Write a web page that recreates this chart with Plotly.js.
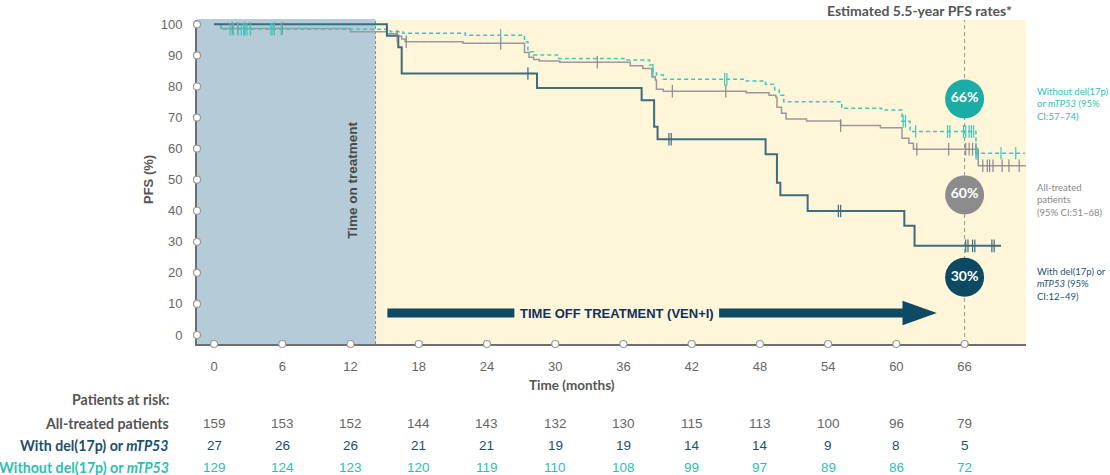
<!DOCTYPE html>
<html><head><meta charset="utf-8">
<script src="https://cdn.plot.ly/plotly-3.0.1.min.js"></script>
<style>html,body{margin:0;padding:0;background:#fff}#chart{width:1110px;height:475px}</style>
</head><body><div id="chart"></div>
<script>
// ---------- DATA ----------
const xTicks = [0,6,12,18,24,30,36,42,48,54,60,66];
const yTicks = [0,10,20,30,40,50,60,70,80,90,100];

// All-treated patients (KM step points: time in months, PFS %)
const allTimes = [0,0.6,12.0,15.2,16.1,16.5,16.8,21.9,27.3,27.7,28.1,28.6,30.4,36.6,37.7,38.5,38.8,38.9,39.5,46.8,48.8,49.4,49.5,49.9,50.3,52.1,55.1,58.6,60.5,61.1,61.5,67.2,71.4];
const allPFS   = [100,98.7,97.6,97.0,96.2,95.3,94.4,93.9,90.9,89.4,88.7,88.2,87.8,86.7,85.8,83.1,82.1,79.1,78.5,78.0,77.2,76.5,73.3,71.4,69.5,68.9,67.4,66.7,63.3,61.7,59.8,54.5,54.5];
const allCens  = [1.6,2.1,2.7,3.2,5.3,6.0,16.1,16.9,25.2,33.7,40.3,45.0,55.1,61.8,64.6,66.1,66.4,66.7,67.0,67.6,68.0,68.2,68.5,69.3,69.9,70.8];

// Without del(17p) or mTP53
const noTimes = [0,0.6,15.5,16.6,22.1,27.3,27.6,28.1,30.3,36.2,38.3,38.6,38.9,39.5,46.7,48.5,49.3,49.7,50.1,55.2,58.7,60.5,61.2,67.0,71.3];
const noPFS   = [100,98.4,97.6,97.1,96.5,94.4,91.2,90.1,89.0,88.5,86.9,84.7,83.7,82.3,81.8,80.7,78.9,77.2,75.1,73.0,72.4,68.8,65.5,58.5,58.5];
const noCens  = [1.4,1.7,2.1,2.4,2.6,2.7,2.9,3.2,5.0,5.1,5.3,5.9,25.2,38.6,44.9,45.1,60.6,60.8,61.7,64.5,64.7,65.9,66.1,66.4,66.6,66.8,67.0,67.1,69.2,70.5];

// With del(17p) or mTP53
const delTimes = [0,15.2,16.2,16.5,28.4,37.6,38.7,39.0,48.5,49.5,49.8,52.2,60.7,61.6,69.2];
const delPFS   = [100,96.3,92.6,84.2,79.5,75.6,67.0,63.0,58.2,49.0,45.0,39.9,35.2,28.7,28.7];
const delCens  = [27.6,40.0,40.2,54.9,55.1,66.1,66.3,66.7,66.9,68.4,68.6];

// Patients at risk
const riskAll   = [159,153,152,144,143,132,130,115,113,100,96,79];
const riskDel   = [27,26,26,21,21,19,19,14,14,9,8,5];
const riskNoDel = [129,124,123,120,119,110,108,99,97,89,86,72];

// Estimated 5.5-year PFS rates
const estLabels = ['66%','60%','30%'];
const estCI = ['Without del(17p)<br>or <i>mTP53</i> (95%<br>CI:57–74)', 'All-treated<br>patients<br>(95% CI:51–68)', 'With del(17p) or<br><i>mTP53</i> (95%<br>CI:12–49)'];
const landmark = 66;
const treatEnd = 14.2;

// ---------- LAYOUT CONSTANTS ----------
const xRange = [-1.5, 71.4];
const yRange = [-2.9, 101.4];
const cTeal = '#3cc8c0', cGray = '#9a9a9a', cDark = '#3d6c7e';
const estColors = ['#19ada6','#8c8c8c','#0c4a63'];
const estTextColors = ['#2bbfb5','#888888','#1d5570'];
const estY = [76.0, 45.1, 18.6];
const estTextPy = [104, 200, 284];

function stepAt(times, vals, t){
  let v = vals[0];
  for (let i=0;i<times.length;i++){ if (times[i] <= t + 1e-9) v = vals[i]; }
  return v;
}
function curve(times, vals, color, width, dash){
  return {x: times, y: vals, type:'scatter', mode:'lines', line:{shape:'hv', color, width, dash}, hoverinfo:'skip', showlegend:false};
}
function cens(ct, times, vals, color){
  return {x: ct, y: ct.map(t=>stepAt(times, vals, t)), type:'scatter', mode:'markers',
    marker:{symbol:'line-ns-open', size:9, color, line:{color, width:1.2}}, hoverinfo:'skip', showlegend:false};
}

const traces = [
  curve(allTimes, allPFS, cGray, 1.5, 'solid'),
  curve(noTimes, noPFS, cTeal, 1.5, '4px,3px'),
  curve(delTimes, delPFS, cDark, 2, 'solid'),
  cens(allCens, allTimes, allPFS, '#8a8a8a'),
  cens(noCens, noTimes, noPFS, cTeal),
  cens(delCens, delTimes, delPFS, cDark),
  // estimate circles
  {x: estLabels.map(()=>landmark), y: estY, type:'scatter', mode:'markers+text', text: estLabels,
   textposition:'middle center', textfont:{family:'Lato', size:14, color:'#ffffff', weight:'bold'},
   marker:{size:39, color: estColors, line:{width:0}}, hoverinfo:'skip', showlegend:false, cliponaxis:false},
  // axis tick circles
  {x: yTicks.map(()=>xRange[0]), y: yTicks, type:'scatter', mode:'markers',
   marker:{symbol:'circle', size:7, color:'#ffffff', line:{color:'#9a9a9a', width:1.2}}, cliponaxis:false, hoverinfo:'skip', showlegend:false},
  {x: xTicks, y: xTicks.map(()=>yRange[0]), type:'scatter', mode:'markers',
   marker:{symbol:'circle', size:7, color:'#ffffff', line:{color:'#9a9a9a', width:1.2}}, cliponaxis:false, hoverinfo:'skip', showlegend:false}
];

const plotLeftPx = 197, plotW = 829;
const plotTopPx = 20, plotBotPx = 344, plotH = plotBotPx - plotTopPx;
const pyToPaper = py => (plotBotPx - py) / plotH;
const pxToPaper = px => (px - plotLeftPx) / plotW;

const shapes = [
  {type:'rect', xref:'x', yref:'paper', x0:xRange[0], x1:treatEnd, y0:0, y1:1.003, fillcolor:'#b5cbd8', line:{width:0}, layer:'below'},
  {type:'rect', xref:'x', yref:'paper', x0:treatEnd, x1:xRange[1], y0:0, y1:1, fillcolor:'#fff5d9', line:{width:0}, layer:'below'},
  {type:'line', xref:'x', yref:'paper', x0:treatEnd, x1:treatEnd, y0:0, y1:1, line:{color:'#8a8a8a', width:1, dash:'3px,2px'}, layer:'below'},
  {type:'line', xref:'x', yref:'paper', x0:landmark, x1:landmark, y0:0, y1:1, line:{color:'#9a9a9a', width:1, dash:'4px,3px'}, layer:'below'},
  // arrow: bars + head
  {type:'rect', xref:'x', yref:'y', x0:15.24, x1:26.41, y0:7.08-1.45, y1:7.08+1.45, fillcolor:'#0d4a66', line:{width:0}},
  {type:'rect', xref:'x', yref:'y', x0:44.41, x1:60.6, y0:7.08-1.45, y1:7.08+1.45, fillcolor:'#0d4a66', line:{width:0}},
  {type:'path', xref:'x', yref:'y', path:'M 60.54 '+(7.08+3.96)+' L 63.56 7.08 L 60.54 '+(7.08-3.96)+' Z', fillcolor:'#0d4a66', line:{width:0}}
];

const annotations = [
  {xref:'paper', yref:'paper', x:pxToPaper(1014), y:pyToPaper(10), xanchor:'right', yanchor:'middle', showarrow:false,
   text:'Estimated 5.5-year PFS rates*', font:{family:'Lato', size:14, color:'#555555', weight:'bold'}},
  {xref:'paper', yref:'paper', x:pxToPaper(148), y:pyToPaper(180), textangle:-90, xanchor:'center', yanchor:'middle', showarrow:false,
   text:'PFS (%)', font:{family:'Liberation Sans', size:13, color:'#555555', weight:'bold'}},
  {xref:'x', yref:'y', x:12.2, y:49.9, textangle:-90, xanchor:'center', yanchor:'middle', showarrow:false,
   text:'Time on treatment', font:{family:'Liberation Sans', size:13.5, color:'#4a4a4a', weight:'bold'}},
  {xref:'x', yref:'y', x:35.4, y:7.08, xanchor:'center', yanchor:'middle', showarrow:false,
   text:'TIME OFF TREATMENT (VEN+I)', font:{family:'Liberation Sans', size:13, color:'#12305a', weight:'bold'}},
  {xref:'x', yref:'paper', x:31.5, y:pyToPaper(385), xanchor:'center', yanchor:'middle', showarrow:false,
   text:'Time (months)', font:{family:'Lato', size:13.5, color:'#555555', weight:'bold'}},
];
// CI labels on the right
estCI.forEach((t,i)=>annotations.push({xref:'paper', yref:'paper', x:pxToPaper(1035), y:pyToPaper(estTextPy[i]), xanchor:'left', yanchor:'middle', align:'left', showarrow:false,
  text:t, font:{family:'Lato', size:9.5, color:estTextColors[i]}}));

// Risk table
const rowLabels = ['Patients at risk:','All-treated patients','With del(17p) or <i>mTP53</i>','Without del(17p) or <i>mTP53</i>'];
const rowPy = [400, 423, 445, 467];
const rowColors = ['#555555','#555555','#1d4f6a','#2bbfb5'];
const numColors = ['#666666','#1d4f6a','#2bbfb5'];
rowLabels.forEach((t,i)=>annotations.push({xref:'paper', yref:'paper', x:pxToPaper(171), y:pyToPaper(rowPy[i]), xanchor:'right', yanchor:'middle', showarrow:false,
  text:t, font:{family:'Lato', size:14.2, color:rowColors[i], weight:'bold'}}));
[riskAll, riskDel, riskNoDel].forEach((arr,r)=>arr.forEach((v,i)=>annotations.push({xref:'x', yref:'paper', x:xTicks[i], y:pyToPaper(rowPy[r+1]), xanchor:'center', yanchor:'middle', showarrow:false,
  text:String(v), font:{family:'Liberation Sans', size:13.5, color:numColors[r]}})));

const layout = {
  width:1110, height:475,
  margin:{l:plotLeftPx, r:1110-plotLeftPx-plotW, t:plotTopPx, b:475-plotBotPx, pad:0},
  paper_bgcolor:'#ffffff', plot_bgcolor:'rgba(0,0,0,0)',
  showlegend:false,
  xaxis:{range:xRange, tickvals:xTicks, ticktext:xTicks.map(String), showgrid:false, zeroline:false,
    showline:true, linecolor:'#6e6e6e', linewidth:2, ticks:'outside', ticklen:9, tickcolor:'rgba(0,0,0,0)',
    tickfont:{family:'Liberation Sans', size:13, color:'#666666'}, layer:'below traces', fixedrange:true},
  yaxis:{range:yRange, tickvals:yTicks, ticktext:yTicks.map(String), showgrid:false, zeroline:false,
    showline:true, linecolor:'#6e6e6e', linewidth:2, ticks:'outside', ticklen:10, tickcolor:'rgba(0,0,0,0)',
    tickfont:{family:'Liberation Sans', size:13, color:'#666666'}, layer:'below traces', fixedrange:true},
  shapes, annotations
};
Plotly.newPlot('chart', traces, layout, {staticPlot:true, displayModeBar:false});
</script></body></html>
